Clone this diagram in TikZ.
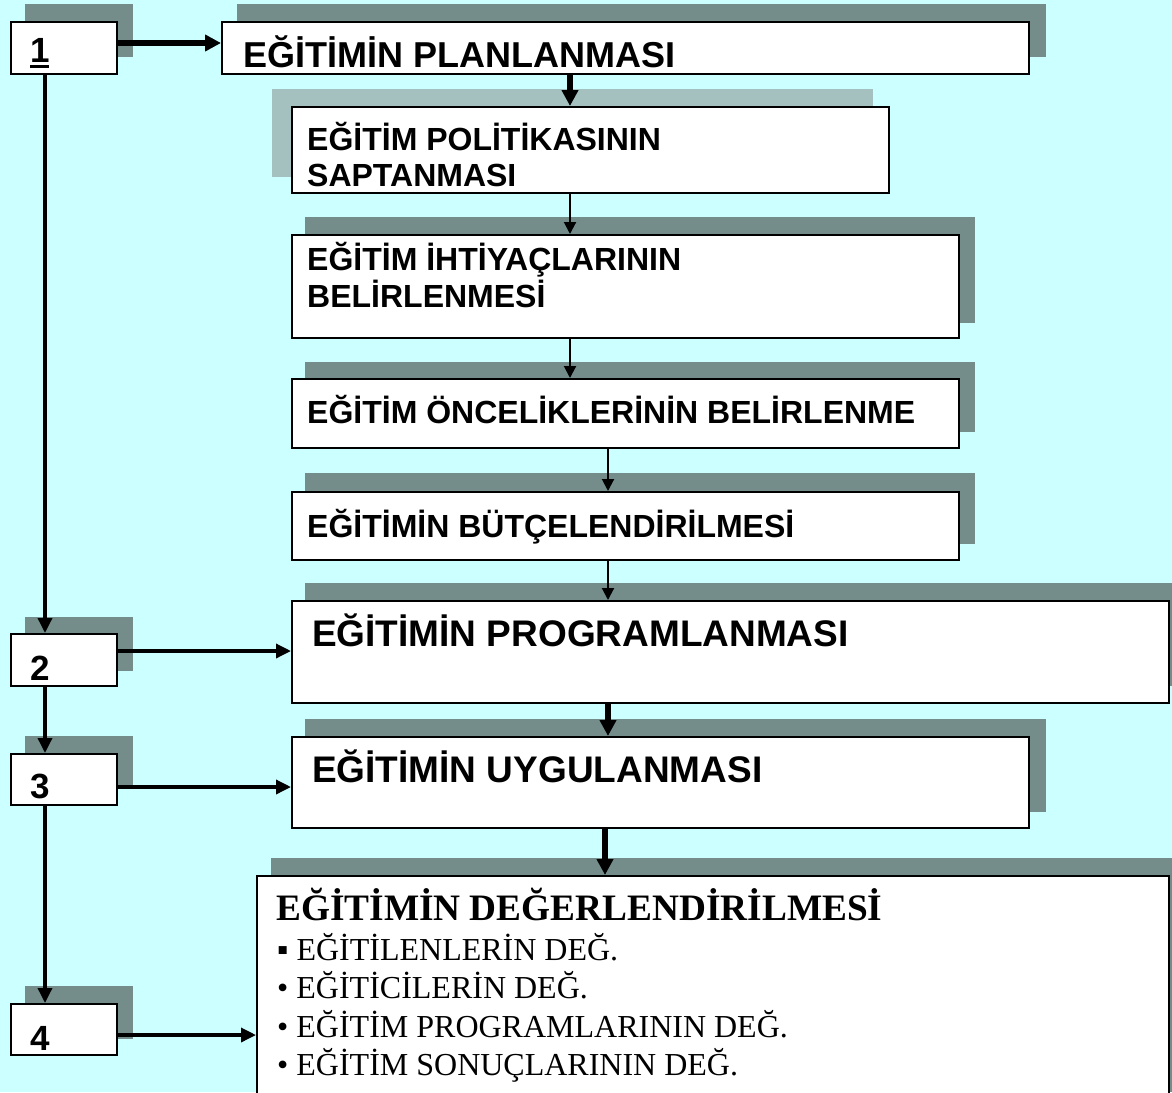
\documentclass[tikz,border=0pt]{standalone}
\usepackage{fontspec}
\setmainfont{Liberation Serif}
\newfontfamily\arl{Liberation Sans}
\usetikzlibrary{arrows.meta,calc}
\definecolor{bg}{RGB}{204,255,255}
\definecolor{shd}{RGB}{116,141,139}
\definecolor{shdl}{RGB}{164,192,191}
\tikzset{
  boxn/.style={draw=black, line width=2.2pt, fill=white, inner sep=0pt, anchor=north west, rectangle},
  lbl/.style={anchor=base west, inner sep=0pt},
  digit/.style={lbl, font=\arl\bfseries\fontsize{35}{40}\selectfont},
  big/.style={lbl, font=\arl\bfseries\fontsize{37}{42}\selectfont},
  small/.style={lbl, font=\arl\bfseries\fontsize{32}{37}\selectfont},
  evtitle/.style={lbl, font=\bfseries\fontsize{37.3}{42}\selectfont},
  evitem/.style={lbl, font=\fontsize{32}{37}\selectfont},
  thick arr/.style={line width=5.5pt, -{Triangle[length=16pt,width=16pt]}},
  mid arr/.style={line width=3.4pt, -{Triangle[length=15pt,width=14pt]}},
  thin arr/.style={line width=2pt, -{Triangle[length=12pt,width=12pt]}},
}
\begin{document}
\begin{tikzpicture}[x=1pt,y=-1pt]
\useasboundingbox (0,0) rectangle (1172,1092);
\fill[bg] (0,0) rectangle (1172,1092);

% shadows
\fill[shd] (25,4) rectangle (133,57);
\fill[shd] (237,4) rectangle (1046,57);
\fill[shdl] (272,89) rectangle (873,177);
\fill[shd] (305,217) rectangle (975,323);
\fill[shd] (305,362) rectangle (975,432);
\fill[shd] (305,473) rectangle (975,544);
\fill[shd] (25,617) rectangle (133,671);
\fill[shd] (305,583) rectangle (1172,686);
\fill[shd] (25,736) rectangle (133,789);
\fill[shd] (305,719) rectangle (1046,812);
\fill[shd] (25,986) rectangle (133,1039);
\fill[shd] (271,858) rectangle (1172,1092);

% boxes
\node[boxn, minimum width=106pt, minimum height=52pt] (b1) at (10,21) {};
\node[boxn, minimum width=807pt, minimum height=52pt] (p) at (221,21) {};
\node[boxn, minimum width=597pt, minimum height=86pt] (s1) at (291,106) {};
\node[boxn, minimum width=667pt, minimum height=103pt] (s2) at (291,234) {};
\node[boxn, minimum width=667pt, minimum height=69pt] (s3) at (291,378) {};
\node[boxn, minimum width=667pt, minimum height=68pt] (s4) at (291,491) {};
\node[boxn, minimum width=106pt, minimum height=52pt] (b2) at (10,633) {};
\node[boxn, minimum width=877pt, minimum height=102pt] (pr) at (291,600) {};
\node[boxn, minimum width=106pt, minimum height=51pt] (b3) at (10,753) {};
\node[boxn, minimum width=737pt, minimum height=91pt] (u) at (291,736) {};
\node[boxn, minimum width=106pt, minimum height=51pt] (b4) at (10,1003) {};
\node[boxn, minimum width=912pt, minimum height=240pt] (e) at (256,875) {};

% texts
\node[digit] (t1) at (30,62) {\rlap{\rule[-6pt]{19pt}{3pt}}1};
\node[digit] (t2) at (30,680) {2};
\node[digit] (t3) at (30,798) {3};
\node[digit] (t4) at (30,1050) {4};
\node[lbl, font=\arl\bfseries\fontsize{36}{40}\selectfont] (tp) at (243,67) {EĞİTİMİN PLANLANMASI};
\node[small] (ts1a) at (307,150) {EĞİTİM POLİTİKASININ};
\node[small] (ts1b) at (307,186) {SAPTANMASI};
\node[small] (ts2a) at (307,270) {EĞİTİM İHTİYAÇLARININ};
\node[small] (ts2b) at (307,307) {BELİRLENMESİ};
\node[small] (ts3) at (307,423) {EĞİTİM ÖNCELİKLERİNİN BELİRLENME};
\node[small] (ts4) at (307,537) {EĞİTİMİN BÜTÇELENDİRİLMESİ};
\node[big] (tpr) at (312,646) {EĞİTİMİN PROGRAMLANMASI};
\node[big] (tu) at (312,782) {EĞİTİMİN UYGULANMASI};
\node[evtitle] (te) at (276,920) {EĞİTİMİN DEĞERLENDİRİLMESİ};
\node[evitem] (te1) at (277,960) {▪ EĞİTİLENLERİN DEĞ.};
\node[evitem] (te2) at (277,998) {• EĞİTİCİLERİN DEĞ.};
\node[evitem] (te3) at (277,1037) {• EĞİTİM PROGRAMLARININ DEĞ.};
\node[evitem] (te4) at (277,1075) {• EĞİTİM SONUÇLARININ DEĞ.};

% connectors
\coordinate (lx) at (45,0);
\coordinate (cx1) at (570,0);
\coordinate (cx2) at (608,0);
\coordinate (cx3) at (605,0);
\draw[thick arr] (b1.east |- 0,43) -- (p.west |- 0,43);
\draw[thick arr] (cx1 |- p.south) -- (cx1 |- s1.north);
\draw[thin arr] (cx1 |- s1.south) -- (cx1 |- s2.north);
\draw[thin arr] (cx1 |- s2.south) -- (cx1 |- s3.north);
\draw[thin arr] (cx2 |- s3.south) -- (cx2 |- s4.north);
\draw[thin arr] (cx2 |- s4.south) -- (cx2 |- pr.north);
\draw[thick arr] (cx2 |- pr.south) -- (cx2 |- u.north);
\draw[thick arr] (cx3 |- u.south) -- (cx3 |- e.north);
\draw[mid arr] (lx |- b1.south) -- (lx |- b2.north);
\draw[mid arr] (lx |- b2.south) -- (lx |- b3.north);
\draw[mid arr] (lx |- b3.south) -- (lx |- b4.north);
\draw[mid arr] (b2.east |- 0,651) -- (pr.west |- 0,651);
\draw[mid arr] (b3.east |- 0,787) -- (u.west |- 0,787);
\draw[mid arr] (b4.east |- 0,1035) -- (e.west |- 0,1035);
\end{tikzpicture}
\end{document}
